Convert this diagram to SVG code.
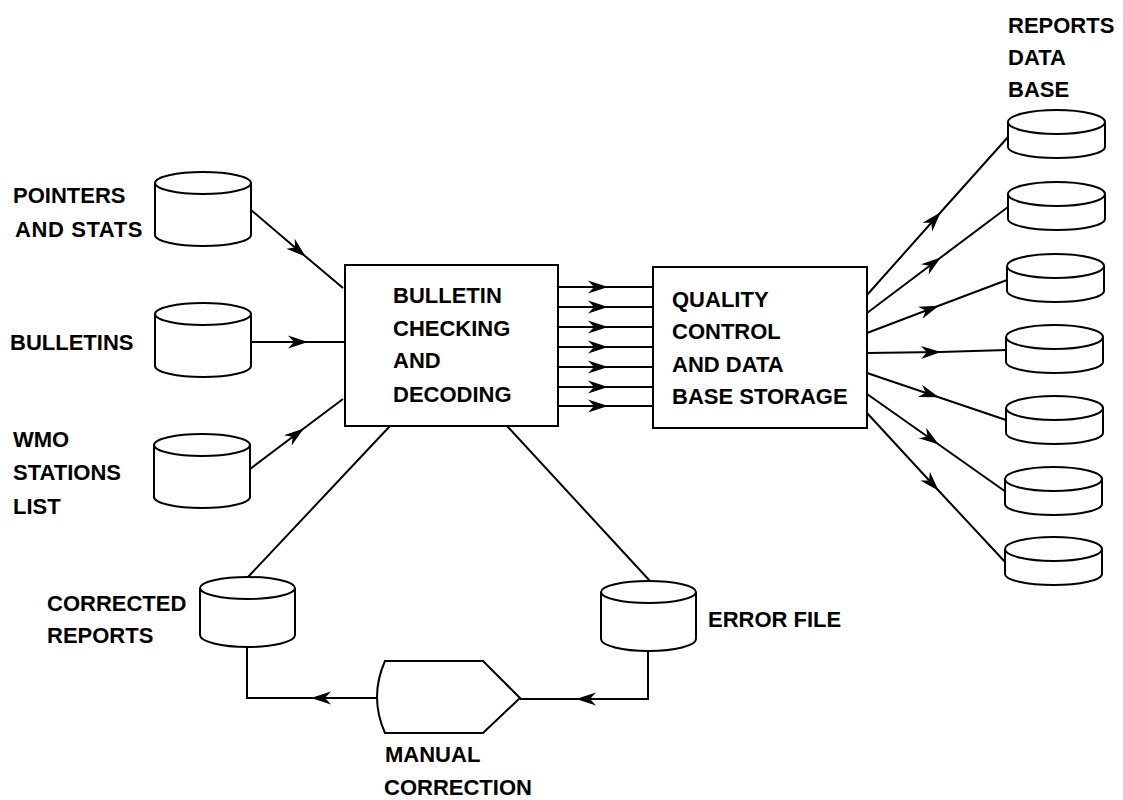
<svg xmlns="http://www.w3.org/2000/svg" xmlns:xlink="http://www.w3.org/1999/xlink" width="1123" height="800" viewBox="0 0 1123 800">
<style>
.s{fill:none;stroke:#000;stroke-width:2}
.b{fill:#fff;stroke:#000;stroke-width:2}
.t{font-family:"Liberation Sans",Arial,sans-serif;font-weight:bold;font-size:22px;fill:#000}
</style>
<defs>
<marker id="ah" markerUnits="userSpaceOnUse" markerWidth="24" markerHeight="14" refX="0" refY="0" viewBox="-22 -7 24 14" orient="auto" overflow="visible">
<path d="M1,0 L-19,-6.5 L-13,0 L-19,6.5 Z" fill="#000"/>
</marker>
<g id="cylL">
<path class="b" d="M0,0 V52 A48,11 0 0 0 96,52 V0"/>
<ellipse class="b" cx="48" cy="0" rx="48" ry="11"/>
</g>
<g id="cylR">
<path class="b" d="M0,0 V25 A48.5,11 0 0 0 97,25 V0"/>
<ellipse class="b" cx="48.5" cy="0" rx="48.5" ry="12"/>
</g>
<g id="cylB">
<path class="b" d="M0,0 V47 A47.5,12 0 0 0 95,47 V0"/>
<ellipse class="b" cx="47.5" cy="0" rx="47.5" ry="11"/>
</g>
</defs>
<rect width="1123" height="800" fill="#fff"/>

<g id="connectors">
<path class="s" d="M251,210 L305,256 L343,288" marker-mid="url(#ah)"/>
<path class="s" d="M250,342 L307,342 L345,342" marker-mid="url(#ah)"/>
<path class="s" d="M250,469 L303,429 L343,399" marker-mid="url(#ah)"/>
<path class="s" d="M558,287 L607,287 L653,287" marker-mid="url(#ah)"/>
<path class="s" d="M558,307 L607,307 L653,307" marker-mid="url(#ah)"/>
<path class="s" d="M558,327 L607,327 L653,327" marker-mid="url(#ah)"/>
<path class="s" d="M558,347 L607,347 L653,347" marker-mid="url(#ah)"/>
<path class="s" d="M558,367 L607,367 L653,367" marker-mid="url(#ah)"/>
<path class="s" d="M558,387 L607,387 L653,387" marker-mid="url(#ah)"/>
<path class="s" d="M558,406 L607,406 L653,406" marker-mid="url(#ah)"/>
<path class="s" d="M867,295 L940,213 L1008,137" marker-mid="url(#ah)"/>
<path class="s" d="M867,313 L940,258 L1008,207" marker-mid="url(#ah)"/>
<path class="s" d="M867,333 L938,306 L1007,280" marker-mid="url(#ah)"/>
<path class="s" d="M867,353 L940,352 L1007,350" marker-mid="url(#ah)"/>
<path class="s" d="M867,373 L938,397 L1006,420" marker-mid="url(#ah)"/>
<path class="s" d="M867,394 L938,444 L1006,492" marker-mid="url(#ah)"/>
<path class="s" d="M867,413 L938,490 L1006,563" marker-mid="url(#ah)"/>
<path class="s" d="M390,426 L248,577"/>
<path class="s" d="M507,426 L650,581"/>
<path class="s" d="M648,652 V699"/>
<path class="s" d="M649,699 L577,699 L520,699" marker-mid="url(#ah)"/>
<path class="s" d="M247,648 V698"/>
<path class="s" d="M377,698 L312,698 L246,698" marker-mid="url(#ah)"/>
</g>

<g id="pointers">
<use xlink:href="#cylL" x="155" y="183"/>
<text class="t" x="13" y="203">POINTERS</text>
<text class="t" x="15" y="237" letter-spacing="0.6">AND STATS</text>
</g>
<g id="bulletins">
<use xlink:href="#cylL" x="155" y="314"/>
<text class="t" x="10" y="350">BULLETINS</text>
</g>
<g id="wmo">
<use xlink:href="#cylL" x="154" y="445"/>
<text class="t" x="13" y="447">WMO</text>
<text class="t" x="13" y="480">STATIONS</text>
<text class="t" x="13" y="514">LIST</text>
</g>
<g id="bulletin-checking">
<rect class="b" x="345" y="265" width="213" height="161"/>
<text class="t" x="393" y="303">BULLETIN</text>
<text class="t" x="393" y="336">CHECKING</text>
<text class="t" x="393" y="368">AND</text>
<text class="t" x="393" y="402">DECODING</text>
</g>
<g id="quality-control">
<rect class="b" x="653" y="267" width="214" height="161"/>
<text class="t" x="672" y="307">QUALITY</text>
<text class="t" x="672" y="339">CONTROL</text>
<text class="t" x="672" y="372">AND DATA</text>
<text class="t" x="672" y="404">BASE STORAGE</text>
</g>
<g id="reports-db">
<text class="t" x="1008" y="33">REPORTS</text>
<text class="t" x="1008" y="65">DATA</text>
<text class="t" x="1008" y="97">BASE</text>
<use xlink:href="#cylR" x="1008" y="122"/>
</g>
<g id="db2"><use xlink:href="#cylR" x="1008" y="194"/></g>
<g id="db3"><use xlink:href="#cylR" x="1007" y="266"/></g>
<g id="db4"><use xlink:href="#cylR" x="1006" y="337"/></g>
<g id="db5"><use xlink:href="#cylR" x="1006" y="408"/></g>
<g id="db6"><use xlink:href="#cylR" x="1005" y="479"/></g>
<g id="db7"><use xlink:href="#cylR" x="1005" y="549"/></g>
<g id="corrected-reports">
<use xlink:href="#cylB" x="200" y="588"/>
<text class="t" x="47" y="611">CORRECTED</text>
<text class="t" x="47" y="643">REPORTS</text>
</g>
<g id="error-file">
<use xlink:href="#cylB" x="601" y="592"/>
<text class="t" x="708" y="627">ERROR FILE</text>
</g>
<g id="manual-correction">
<path class="b" d="M385,661 L483,661 L520,698 L483,733 L385,733 Q369,697 385,661 Z"/>
<text class="t" x="385" y="762">MANUAL</text>
<text class="t" x="384" y="795">CORRECTION</text>
</g>
</svg>
